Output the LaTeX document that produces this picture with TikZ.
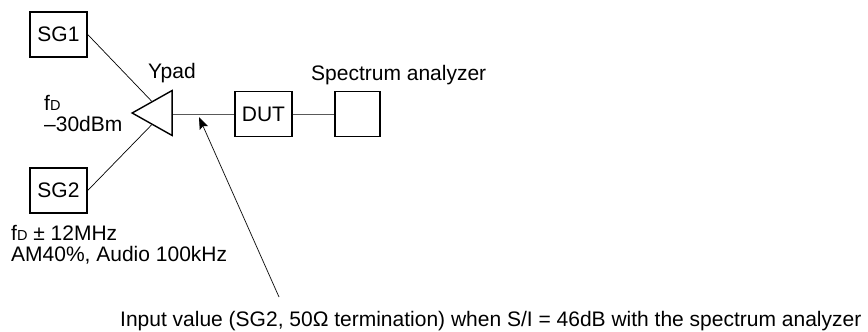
\documentclass[tikz,border=0pt]{standalone}
\usepackage{fontspec}
\setmainfont{Liberation Sans}
\usetikzlibrary{arrows.meta,shapes.geometric}
\tikzset{
    unit/.style={draw,line width=1.4pt,minimum width=57pt,minimum height=45pt,inner sep=0pt},
    label/.style={inner sep=0pt,align=left,anchor=west},
    feed/.style={line width=.7pt},
    wire/.style={line width=1pt,black!65}
}
\newcommand{\subd}{{\fontsize{14.5pt}{14.5pt}\selectfont D}}

\begin{document}
\begin{tikzpicture}[x=1pt,y=-1pt,font=\fontsize{21pt}{21pt}\selectfont]
\useasboundingbox (0,0) rectangle (868,332);

\node (sg1) [unit] at (58.5,34.5) {SG1};
\node (sg2) [unit] at (58.5,190.5) {SG2};
\node (ypad) [draw,line width=1.4pt,isosceles triangle,shape border rotate=180,
    isosceles triangle stretches,minimum width=45pt,minimum height=40pt,inner sep=0pt] at (159,113) {};
\node (dut) [unit] at (263.5,114) {DUT};
\node (sa) [unit,minimum width=45pt] at (357.5,114) {};

\draw[feed] (sg1.east) -- (ypad.right side);
\draw[feed] (sg2.east) -- (ypad.left side);
\draw[wire] (ypad.lower side |- dut.west) -- (dut.west);
\draw[wire] (dut.east) -- (sa.west);

\node (ypadl) [label] at (148,73) {Ypad};
\node (sal) [label] at (311,75) {Spectrum analyzer};
\node (fd) [label] at (44,114) {f\subd\\–30dBm};
\node (fdm) [label] at (11,245) {f\subd\ ± 12MHz\\AM40\%, Audio 100kHz};
\node (inp) [label] at (120,321) {Input value (SG2, 50Ω termination) when S/I = 46dB with the spectrum analyzer};

% pointer to the line behind the pad
\coordinate (inpi) at (199,117);
\coordinate (inpo) at (279,297);
\draw[feed,-{Stealth[length=12pt,width=9pt,inset=2pt]}] (inpo) -- (inpi);
\end{tikzpicture}
\end{document}
